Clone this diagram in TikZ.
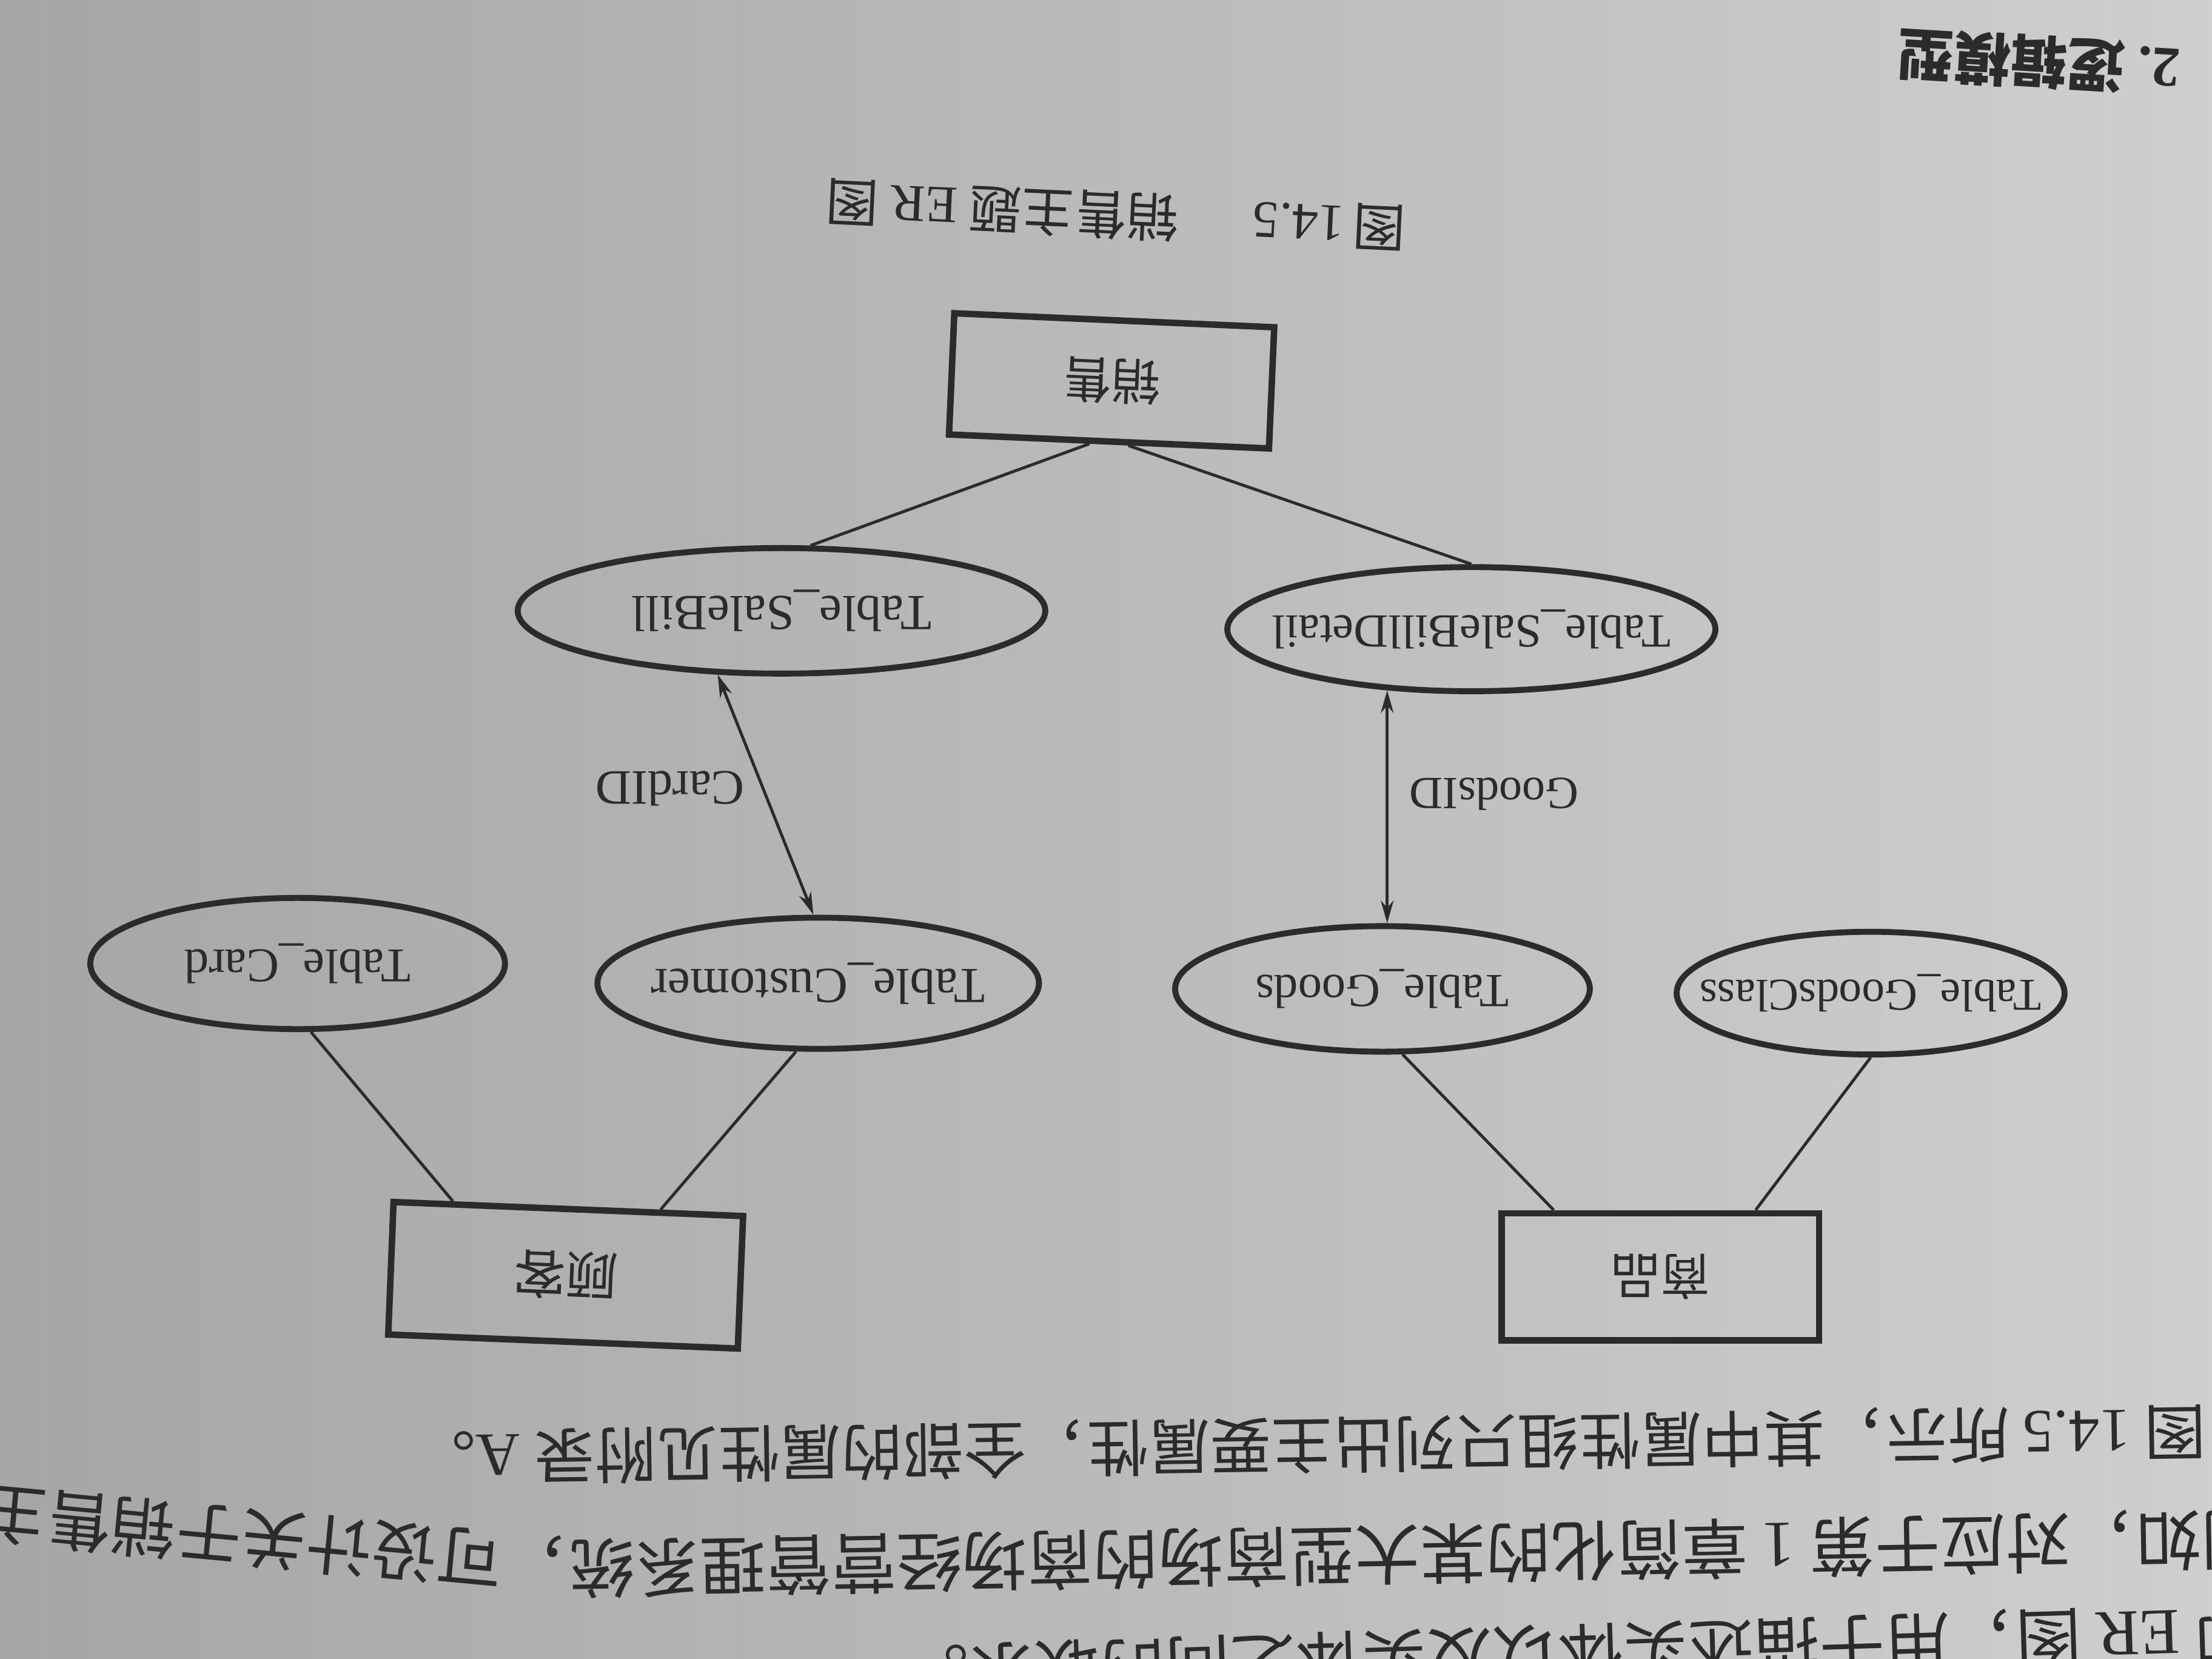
\documentclass[tikz,border=0pt]{standalone}
\usepackage{fontspec}
\setmainfont{Liberation Serif}
\newfontfamily\zh{Noto Sans CJK SC}
\usetikzlibrary{shapes.geometric,arrows.meta}
\definecolor{ink}{gray}{0.17}
\tikzset{
  entity/.style   = {shape=rectangle, draw=ink, line width=1.3pt, inner sep=0pt,
                     text=ink, font=\zh\fontsize{10}{12}\selectfont},
  attr/.style     = {shape=ellipse, draw=ink, line width=1.2pt, inner sep=0pt},
  attrtext/.style = {text=ink, inner sep=0pt, font=\fontsize{10.2}{12}\selectfont},
  link/.style     = {draw=ink, line width=0.6pt},
  keyarrow/.style = {link, {Stealth[length=1.6mm,width=0.9mm]}-{Stealth[length=1.6mm,width=0.9mm]}},
  keylabel/.style = {text=ink, font=\fontsize{10}{12}\selectfont},
  captext/.style  = {text=ink, font=\zh\fontsize{10.6}{12}\selectfont},
  heading/.style  = {text=ink, font=\zh\bfseries\fontsize{11.5}{13}\selectfont},
  bodyline/.style = {text=ink, inner sep=0pt, font=\zh\fontsize{13.2}{16}\selectfont}
}

\begin{document}
\begin{tikzpicture}[rotate=180, transform shape]
  \useasboundingbox (0,0) rectangle (15.68,11.76);
  \fill[left color=black!35, right color=black!19] (0,0) rectangle (15.68,11.76);
  \clip (0,0) rectangle (15.68,11.76);

  \node[entity, minimum width=2.48cm, minimum height=0.94cm, rotate=-2.3,
        font=\zh\fontsize{10.5}{12}\selectfont] (customer) at (11.67,9.04) {顾客};
  \node[entity, minimum width=2.25cm, minimum height=0.90cm] (product) at (3.91,9.05) {商品};

  \node[attr, minimum width=2.94cm, minimum height=0.93cm,
        label={[attrtext, font=\fontsize{9.8}{12}\selectfont]center:Table\_Card}] (card) at (13.57,6.83) {};
  \node[attr, minimum width=3.13cm, minimum height=0.93cm,
        label={[attrtext]center:Table\_Customer}] (cust) at (9.88,6.97) {};
  \node[attr, minimum width=2.94cm, minimum height=0.89cm,
        label={[attrtext, font=\fontsize{9.6}{12}\selectfont]center:Table\_Goods}] (goods) at (5.88,7.01) {};
  \node[attr, minimum width=2.75cm, minimum height=0.87cm,
        label={[attrtext, font=\fontsize{9.2}{12}\selectfont]center:Table\_GoodsClass}] (gclass) at (2.42,7.04) {};
  \node[attr, minimum width=3.74cm, minimum height=0.89cm,
        label={[attrtext]center:Table\_SaleBill}] (bill) at (10.14,4.33) {};
  \node[attr, minimum width=3.46cm, minimum height=0.88cm,
        label={[attrtext, font=\fontsize{9.6}{12}\selectfont]center:Table\_SaleBillDetail}] (detail) at (5.25,4.46) {};

  \node[entity, minimum width=2.27cm, minimum height=0.86cm, rotate=-2.5] (sale) at (7.80,2.70) {销售};

  \draw[link] (card.101) -- (customer.329);
  \draw[link] (cust.72) -- (customer.217);
  \draw[link] (goods.107) -- (product.328);
  \draw[link] (gclass.north) -- (product.215);
  \draw[link] (sale.73) -- (bill.246);
  \draw[link] (sale.107) -- (detail.south);
  \draw[keyarrow] (bill.45) -- (cust.274);
  \draw[keyarrow] (detail.36) -- (detail.36 |- goods.south);

  \node[keylabel] (cardid) at (10.93,5.59) {CardID};
  \node[keylabel, font=\fontsize{9.3}{11}\selectfont] (goodsid) at (5.09,5.63) {GoodsID};

  \node[captext, rotate=-2.7] (caption) at (7.77,1.53)
    {图\,{\rmfamily 14.5}\hspace{1.4em}销售主题 {\rmfamily ER} 图};
  \node[heading, rotate=-3.5] (section) at (1.23,0.44) {{\rmfamily\bfseries 2.}\ 逻辑模型};

  \node[bodyline, anchor=east, rotate=0.85, font=\zh\fontsize{12.4}{15}\selectfont] (para1) at (12.75,10.34)
    {图 {\rmfamily 14.5} 所示，其中属性组只列出主要属性，全部的属性见附录 {\rmfamily A}。};
  \node[bodyline, anchor=east, rotate=1] (para2a) at (11.65,11.12)
    {例如，对应于第 {\rmfamily 1} 章简化的某大型商场的商场经营管理系统};
  \node[bodyline, anchor=west, rotate=-5.4] (para2b) at (11.65,11.11) {，可设计关于销售主};
  \node[bodyline, anchor=east, rotate=1.8] (para3) at (9.28,11.87)
    {即 {\rmfamily ER} 图，用于描述实体以及实体之间的联系。};
\end{tikzpicture}
\end{document}
